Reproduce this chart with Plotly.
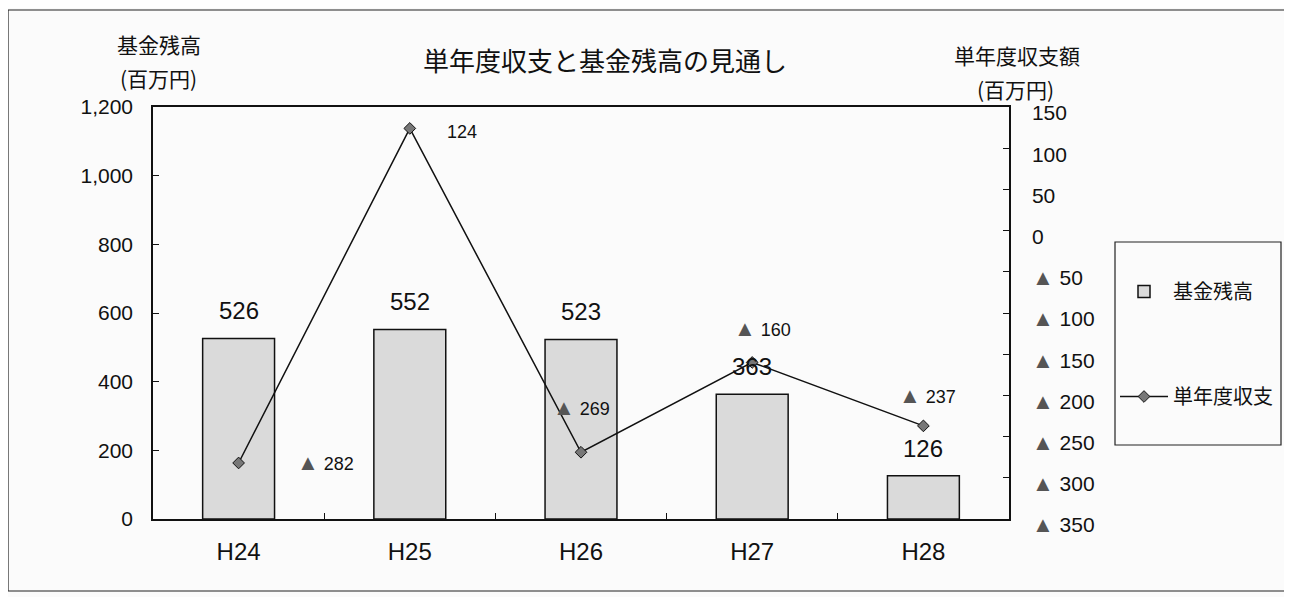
import plotly.graph_objects as go

categories = ["H24", "H25", "H26", "H27", "H28"]
fund_balance = [526, 552, 523, 363, 126]
annual_balance = [-282, 124, -269, -160, -237]
left_tick_vals = [0, 200, 400, 600, 800, 1000, 1200]
left_tick_text = ["0", "200", "400", "600", "800", "1,000", "1,200"]
right_tick_vals = [150, 100, 50, 0, -50, -100, -150, -200, -250, -300, -350]

TRI = '<span style="color:#555555;font-size:22px">▲</span> '

def fmt(v):
    return f"{TRI}{abs(v)}" if v < 0 else f"{v}"

FONT = "Liberation Sans, Arial, Noto Sans CJK JP, sans-serif"
JFONT = "Noto Sans CJK JP, Liberation Sans, sans-serif"
INK = "#111111"

# reference pixel -> paper coordinates (plot area 153..1009 x 107..519 in the reference)
def px_x(px):
    return (px - 153) / 856

def px_y(py):
    return (519 - py) / 412

fig = go.Figure()
fig.add_trace(go.Bar(
    x=categories, y=fund_balance, name="基金残高", width=0.42,
    marker=dict(color="#dadada", line=dict(color=INK, width=1.5)),
    legendgroup="a", yaxis="y",
))
fig.add_trace(go.Scatter(
    x=categories, y=annual_balance, name="単年度収支", mode="lines+markers",
    line=dict(color=INK, width=1.5),
    marker=dict(symbol="diamond", size=9, color="#777777", line=dict(color=INK, width=1)),
    legendgroup="b", yaxis="y2",
))

annotations = []
for c, v in zip(categories, fund_balance):
    annotations.append(dict(x=c, y=v, xref="x", yref="y", text=str(v), showarrow=False,
                            xanchor="center", yanchor="bottom", yshift=12,
                            font=dict(size=24, color=INK, family=FONT)))
offsets = [(87, 0, "center"), (35, -4, "left"), (0, 45, "center"), (10, 34, "center"), (4, 30, "center")]
for c, v, (dx, dy, xa) in zip(categories, annual_balance, offsets):
    annotations.append(dict(x=c, y=v, xref="x", yref="y2", text=fmt(v), showarrow=False,
                            xanchor=xa, yanchor="middle", xshift=dx, yshift=dy,
                            font=dict(size=18, color=INK, family=FONT)))

def label(px, py, text, size):
    return dict(x=px_x(px), y=px_y(py), xref="paper", yref="paper", text=text,
                showarrow=False, xanchor="center", yanchor="middle", align="center",
                font=dict(size=size, color=INK, family=JFONT))

annotations += [
    label(605, 60, "単年度収支と基金残高の見通し", 26),
    label(159, 44, "基金残高", 21),
    label(158, 78, "(百万円)", 21),
    label(1017, 55, "単年度収支額", 21),
    label(1015, 89, "(百万円)", 21),
]

shapes = [
    dict(type="rect", xref="paper", yref="paper", x0=px_x(8), x1=px_x(1287), y0=px_y(591), y1=px_y(10),
         line=dict(color="#222222", width=1.2)),
    dict(type="rect", xref="paper", yref="paper", x0=px_x(1115), x1=px_x(1281), y0=px_y(445), y1=px_y(242),
         line=dict(color="#222222", width=1.2)),
]

fig.update_layout(
    width=1284, height=589,
    margin=dict(l=145, r=283, t=99, b=78),
    paper_bgcolor="#fbfbfb", plot_bgcolor="#fbfbfb",
    font=dict(family=FONT, size=20, color=INK),
    showlegend=True,
    legend=dict(x=px_x(1115), y=px_y(272), xanchor="left", yanchor="top",
                borderwidth=0, bgcolor="rgba(0,0,0,0)",
                font=dict(size=20, family=JFONT), tracegroupgap=76,
                traceorder="grouped", itemwidth=48),
    xaxis=dict(showline=True, linecolor=INK, linewidth=1.5, mirror=True,
               ticks="inside", tickson="boundaries", ticklen=6, tickcolor=INK,
               tickfont=dict(size=24), showgrid=False, ticklabelstandoff=10),
    yaxis=dict(range=[0, 1200], tickvals=left_tick_vals, ticktext=left_tick_text,
               showline=True, linecolor=INK, linewidth=1.5, showgrid=False,
               zeroline=False, ticks="inside", ticklen=6, tickcolor=INK,
               tickfont=dict(size=21), ticklabelstandoff=14),
    yaxis2=dict(range=[-350, 150], overlaying="y", side="right",
                tickvals=right_tick_vals, ticktext=[fmt(v) for v in right_tick_vals],
                showline=True, linecolor=INK, linewidth=1.5, showgrid=False,
                zeroline=False, ticks="inside", ticklen=6, tickcolor=INK,
                tickfont=dict(size=21), ticklabelstandoff=17, ticklabelshift=6),
    annotations=annotations, shapes=shapes,
)

fig.write_html("out.html")
